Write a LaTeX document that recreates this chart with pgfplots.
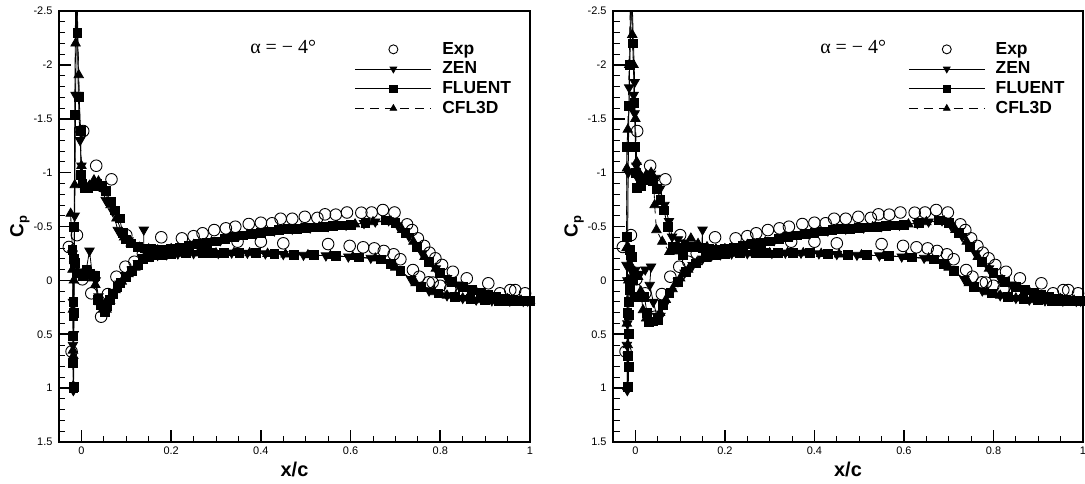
\documentclass[border=0pt]{standalone}
\usepackage{fontspec}
\setmainfont{Liberation Sans}
\newfontfamily\annotfont{Liberation Serif}
\usepackage{pgfplots}
\usepackage{pgfplotstable}
\pgfplotsset{compat=1.18}

% ---------------- experiment (same in both panels) ----------------
\pgfplotstableread{
x cp
-0.028 -0.31
-0.010 -0.42
-0.022 0.66
0.002 -0.01
0.022 0.12
0.044 0.337
0.059 0.127
0.078 -0.034
0.098 -0.127
0.118 -0.173
0.004 -1.386
0.033 -1.064
0.067 -0.938
0.100 -0.42
0.137 -0.25
0.178 -0.40
0.224 -0.39
0.250 -0.41
0.270 -0.437
0.296 -0.467
0.322 -0.483
0.343 -0.498
0.373 -0.523
0.400 -0.535
0.425 -0.530
0.444 -0.572
0.470 -0.572
0.498 -0.590
0.526 -0.580
0.543 -0.613
0.567 -0.610
0.592 -0.630
0.624 -0.628
0.647 -0.630
0.672 -0.653
0.698 -0.630
0.726 -0.520
0.737 -0.467
0.750 -0.390
0.764 -0.320
0.776 -0.257
0.789 -0.205
0.804 -0.143
0.828 -0.080
0.859 -0.019
0.907 0.027
0.933 0.120
0.956 0.090
0.967 0.090
0.989 0.120
0.348 -0.359
0.400 -0.359
0.450 -0.344
0.550 -0.337
0.598 -0.320
0.628 -0.307
0.653 -0.297
0.674 -0.273
0.696 -0.242
0.711 -0.196
0.739 -0.096
0.753 -0.034
0.774 0.018
0.783 0.020
0.800 0.050
0.822 0.080
0.848 0.105
}\expdata

% ---------------- aft part of each solution (upper 0.2 -> TE -> lower 0.2) ----------------
\pgfplotstableread{
x cp
0.18 -0.280
0.20 -0.290
0.22 -0.305
0.24 -0.320
0.26 -0.340
0.28 -0.350
0.30 -0.362
0.32 -0.385
0.34 -0.405
0.36 -0.418
0.38 -0.430
0.40 -0.442
0.42 -0.455
0.44 -0.467
0.46 -0.475
0.48 -0.480
0.50 -0.485
0.52 -0.492
0.54 -0.498
0.56 -0.505
0.58 -0.510
0.60 -0.518
0.633 -0.530
0.678 -0.556
0.700 -0.530
0.722 -0.440
0.748 -0.310
0.774 -0.175
0.800 -0.070
0.826 0.012
0.850 0.058
0.870 0.090
0.890 0.115
0.907 0.136
0.925 0.155
0.944 0.168
0.960 0.178
0.975 0.185
0.988 0.188
1.000 0.190
0.990 0.192
0.978 0.191
0.965 0.190
0.950 0.189
0.930 0.188
0.900 0.185
0.867 0.175
0.833 0.152
0.796 0.120
0.756 0.059
0.711 -0.090
0.690 -0.150
0.667 -0.195
0.618 -0.214
0.567 -0.226
0.518 -0.234
0.474 -0.238
0.430 -0.246
0.389 -0.252
0.352 -0.257
0.318 -0.255
0.292 -0.252
0.270 -0.252
0.233 -0.250
0.200 -0.245
0.180 -0.240
}\fluentaft

\pgfplotstableread{
x cp
0.19 -0.285
0.23 -0.312
0.27 -0.345
0.31 -0.372
0.35 -0.412
0.39 -0.436
0.43 -0.461
0.47 -0.478
0.51 -0.489
0.55 -0.502
0.59 -0.514
0.63 -0.530
0.655 -0.545
0.685 -0.556
0.705 -0.510
0.730 -0.410
0.760 -0.250
0.790 -0.110
0.815 -0.020
0.840 0.040
0.865 0.085
0.895 0.120
0.930 0.160
0.965 0.180
0.995 0.190
0.985 0.192
0.955 0.190
0.915 0.187
0.880 0.180
0.850 0.165
0.815 0.140
0.775 0.095
0.735 -0.010
0.690 -0.150
0.645 -0.208
0.595 -0.220
0.545 -0.230
0.495 -0.236
0.450 -0.243
0.410 -0.249
0.370 -0.255
0.335 -0.256
0.305 -0.253
0.250 -0.251
0.215 -0.248
0.19 -0.242
}\zenaft

\pgfplotstableread{
x cp
0.20 -0.290
0.25 -0.330
0.29 -0.356
0.33 -0.395
0.37 -0.424
0.41 -0.449
0.45 -0.471
0.49 -0.483
0.53 -0.495
0.57 -0.508
0.61 -0.521
0.65 -0.542
0.69 -0.548
0.715 -0.470
0.740 -0.360
0.765 -0.220
0.790 -0.110
0.820 0.000
0.855 0.070
0.880 0.105
0.915 0.145
0.950 0.172
0.980 0.186
1.000 0.190
0.970 0.190
0.940 0.189
0.910 0.187
0.885 0.182
0.850 0.165
0.815 0.140
0.785 0.108
0.745 0.025
0.700 -0.120
0.655 -0.205
0.605 -0.218
0.555 -0.228
0.505 -0.235
0.455 -0.242
0.415 -0.248
0.375 -0.254
0.340 -0.256
0.300 -0.253
0.260 -0.252
0.225 -0.249
0.20 -0.245
}\cflaft

% ---------------- leading-edge part, left panel ----------------
\pgfplotstableread{
x cp
0.180 -0.280
0.165 -0.282
0.156 -0.297
0.142 -0.297
0.126 -0.310
0.111 -0.344
0.100 -0.380
0.092 -0.440
0.085 -0.576
0.075 -0.650
0.065 -0.730
0.054 -0.833
0.045 -0.880
0.035 -0.895
0.025 -0.880
0.015 -0.860
0.007 -0.860
0.002 -0.900
-0.001 -0.978
-0.002 -1.386
-0.005 -1.700
-0.009 -2.300
-0.011 -2.800
-0.013 -2.600
-0.015 -1.535
-0.016 -0.500
-0.017 0.300
-0.0175 0.987
-0.0180 1.000
-0.0185 0.770
-0.0185 0.520
-0.0180 0.330
-0.0180 0.200
-0.0200 -0.282
-0.0170 -0.200
-0.0150 -0.160
-0.0080 -0.065
0.004 -0.040
0.011 -0.100
0.020 -0.060
0.030 -0.040
0.037 0.180
0.044 0.229
0.052 0.290
0.058 0.240
0.064 0.180
0.070 0.127
0.080 0.060
0.087 0.020
0.100 -0.030
0.113 -0.090
0.125 -0.140
0.137 -0.200
0.150 -0.220
0.165 -0.235
0.180 -0.240
}\fluentleA

\pgfplotstableread{
x cp
0.190 -0.285
0.160 -0.285
0.139 -0.300
0.139 -0.470
0.139 -0.290
0.125 -0.315
0.105 -0.370
0.090 -0.440
0.081 -0.468
0.070 -0.640
0.054 -0.746
0.045 -0.860
0.030 -0.895
0.015 -0.870
0.005 -0.880
0.000 -1.064
-0.003 -1.300
-0.007 -1.720
-0.010 -2.700
-0.013 -1.720
-0.015 -0.600
-0.017 0.500
-0.018 1.020
-0.019 0.600
-0.019 0.200
-0.020 -0.250
-0.016 -0.150
-0.010 -0.080
0.000 -0.050
0.010 -0.080
0.018 -0.275
0.024 -0.060
0.032 0.000
0.038 0.150
0.045 0.250
0.052 0.280
0.060 0.200
0.072 0.110
0.085 0.030
0.098 -0.040
0.112 -0.100
0.126 -0.160
0.140 -0.210
0.155 -0.225
0.170 -0.235
0.190 -0.242
}\zenleA

\pgfplotstableread{
x cp
0.200 -0.290
0.170 -0.280
0.150 -0.290
0.130 -0.305
0.110 -0.345
0.095 -0.400
0.078 -0.576
0.065 -0.700
0.050 -0.850
0.038 -0.920
0.028 -0.930
0.018 -0.880
0.008 -0.870
0.000 -1.064
-0.003 -1.400
-0.006 -1.906
-0.010 -2.700
-0.013 -2.200
-0.015 -0.885
-0.017 0.000
-0.018 0.700
-0.018 0.980
-0.019 0.650
-0.019 0.270
-0.020 -0.100
-0.024 -0.620
-0.020 -0.290
-0.016 -0.180
-0.008 -0.080
0.004 -0.050
0.015 -0.070
0.025 -0.020
0.031 0.040
0.040 0.200
0.048 0.270
0.056 0.270
0.064 0.190
0.076 0.090
0.090 0.010
0.105 -0.060
0.120 -0.120
0.135 -0.190
0.150 -0.215
0.170 -0.232
0.200 -0.245
}\cflleA

% ---------------- leading-edge part, right panel ----------------
\pgfplotstableread{
x cp
0.180 -0.280
0.165 -0.290
0.150 -0.300
0.128 -0.313
0.113 -0.313
0.106 -0.240
0.095 -0.300
0.084 -0.313
0.072 -0.500
0.064 -0.650
0.056 -0.746
0.048 -0.850
0.040 -0.920
0.030 -0.950
0.020 -0.930
0.012 -0.880
0.004 -0.855
0.001 -1.000
0.000 -1.240
-0.002 -1.650
-0.006 -2.200
-0.010 -2.800
-0.013 -2.000
-0.014 -1.620
-0.019 -1.240
-0.019 -0.400
-0.018 0.300
-0.017 0.700
-0.016 0.987
-0.015 0.800
-0.015 0.500
-0.014 0.320
-0.015 0.198
-0.013 0.090
-0.0127 0.012
-0.0127 -0.282
-0.008 -0.220
-0.005 0.000
-0.002 0.151
0.010 0.151
0.020 0.151
0.026 0.300
0.030 0.383
0.040 0.380
0.050 0.368
0.061 0.229
0.076 0.120
0.095 0.012
0.113 -0.080
0.136 -0.158
0.158 -0.220
0.180 -0.240
}\fluentleB

\pgfplotstableread{
x cp
0.190 -0.285
0.170 -0.290
0.150 -0.300
0.150 -0.470
0.148 -0.300
0.130 -0.330
0.110 -0.350
0.095 -0.380
0.082 -0.405
0.075 -0.550
0.065 -0.700
0.055 -0.850
0.045 -0.950
0.035 -0.990
0.025 -0.960
0.015 -0.920
0.005 -0.950
0.002 -1.064
-0.0016 -1.550
-0.004 -1.720
-0.0016 -1.840
-0.008 -2.700
-0.014 -1.790
-0.016 -1.000
-0.018 0.000
-0.019 0.600
-0.018 1.020
-0.017 0.700
-0.018 0.400
-0.020 -0.143
-0.010 -0.100
0.000 -0.096
0.010 -0.060
0.022 -0.100
0.035 -0.127
0.032 0.043
0.040 0.200
0.048 0.330
0.056 0.330
0.066 0.220
0.080 0.100
0.095 0.010
0.110 -0.070
0.128 -0.140
0.150 -0.200
0.170 -0.230
0.190 -0.242
}\zenleB

\pgfplotstableread{
x cp
0.200 -0.290
0.180 -0.290
0.160 -0.310
0.140 -0.340
0.124 -0.390
0.110 -0.320
0.095 -0.280
0.085 -0.270
0.076 -0.266
0.060 -0.360
0.047 -0.468
0.043 -0.700
0.041 -0.950
0.035 -1.000
0.024 -0.978
0.015 -0.950
0.008 -1.000
0.003 -1.100
0.000 -1.500
-0.004 -2.000
-0.007 -2.280
-0.010 -2.800
-0.014 -2.000
-0.017 -1.400
-0.019 -1.040
-0.020 -0.300
-0.019 0.400
-0.018 0.990
-0.017 0.600
-0.016 0.000
-0.015 -0.300
-0.012 -0.150
-0.005 -0.050
0.006 -0.034
0.012 0.100
0.017 0.275
0.024 0.352
0.034 0.380
0.044 0.370
0.055 0.300
0.068 0.180
0.083 0.080
0.100 -0.020
0.118 -0.100
0.138 -0.170
0.160 -0.215
0.180 -0.235
0.200 -0.245
}\cflleB

\pgfplotsset{
  cfdleg/.style={legend image code/.code={%
      \draw[mark repeat=2,mark phase=2,mark size=3.8bp] plot coordinates {(0bp,0bp) (38bp,0bp) (76bp,0bp)};}},
  expstyle/.style={only marks, mark=o, mark size=5.8bp, black, line width=0.9bp,
      legend image code/.code={\draw[mark size=4.5bp] plot coordinates {(38bp,0bp)};}},
  zenstyle/.style={black, line width=0.8bp, mark=triangle*, mark size=5.4bp,
      mark options={rotate=180, solid}, cfdleg},
  fluentstyle/.style={black, line width=0.8bp, mark=square*, mark size=4.4bp,
      mark options={solid}, cfdleg},
  cflstyle/.style={black, line width=0.8bp, dash pattern=on 9bp off 6bp,
      mark=triangle*, mark size=5.4bp, mark options={solid}, cfdleg},
  cpaxis/.style={
    anchor=south west,
    scale only axis,
    height=431bp,
    xmin=-0.05, xmax=1,
    ymin=-2.5, ymax=1.5,
    y dir=reverse,
    xtick={0,0.2,0.4,0.6,0.8,1},
    xticklabels={0,0.2,0.4,0.6,0.8,1},
    minor x tick num=3,
    ytick={-2.5,-2,-1.5,-1,-0.5,0,0.5,1,1.5},
    yticklabels={-2.5,-2,-1.5,-1,-0.5,0,0.5,1,1.5},
    minor y tick num=4,
    tick align=inside,
    xtick pos=bottom, ytick pos=left,
    major tick length=12bp, minor tick length=6.5bp,
    every major tick/.append style={line width=1.6bp, black},
    every minor tick/.append style={line width=0.9bp, black},
    axis line style={line width=1.8bp},
    tick label style={font=\fontsize{11}{13}\selectfont},
    xticklabel style={yshift=-1.5bp},
    yticklabel style={xshift=-3bp},
    xlabel={x/c},
    ylabel={C\raisebox{-0.35ex}{\fontsize{13}{13}\selectfont p}},
    every axis x label/.style={at={(axis description cs:0.5,-0.081)}, anchor=base,
       font=\bfseries\fontsize{20}{24}\selectfont},
    every axis y label/.style={at={(axis description cs:-0.083,0.5)}, anchor=center, rotate=90,
       font=\bfseries\fontsize{19}{22}\selectfont},
    legend style={at={(0.628,0.933)}, anchor=north west, draw=none, fill=none,
       inner sep=0pt, row sep=1.2bp, column sep=9bp,
       font=\bfseries\fontsize{17.5}{19}\selectfont,
       nodes={inner sep=1.5bp, text height=12.5bp, text depth=3bp}},
    legend cell align=left,
  }
}

\begin{document}
\begin{tikzpicture}
\path[use as bounding box] (0,0) rectangle (1085bp,484bp);

\begin{axis}[cpaxis, at={(59bp,42bp)}, width=471bp]
  \addplot[expstyle] table {\expdata};
  \addlegendentry{Exp}
  \addplot[zenstyle, forget plot] table {\zenaft};
  \addplot[zenstyle] table {\zenleA};
  \addlegendentry{ZEN}
  \addplot[fluentstyle, forget plot] table {\fluentaft};
  \addplot[fluentstyle] table {\fluentleA};
  \addlegendentry{FLUENT}
  \addplot[cflstyle, forget plot] table {\cflaft};
  \addplot[cflstyle] table {\cflleA};
  \addlegendentry{CFL3D}
  \node[font=\annotfont\fontsize{20}{24}\selectfont] at (rel axis cs:0.476,0.917) {α = − 4°};
\end{axis}

\begin{axis}[cpaxis, at={(613bp,42bp)}, width=470bp]
  \addplot[expstyle] table {\expdata};
  \addlegendentry{Exp}
  \addplot[zenstyle, forget plot] table {\zenaft};
  \addplot[zenstyle] table {\zenleB};
  \addlegendentry{ZEN}
  \addplot[fluentstyle, forget plot] table {\fluentaft};
  \addplot[fluentstyle] table {\fluentleB};
  \addlegendentry{FLUENT}
  \addplot[cflstyle, forget plot] table {\cflaft};
  \addplot[cflstyle] table {\cflleB};
  \addlegendentry{CFL3D}
  \node[font=\annotfont\fontsize{20}{24}\selectfont] at (rel axis cs:0.511,0.917) {α = − 4°};
\end{axis}
\end{tikzpicture}
\end{document}
